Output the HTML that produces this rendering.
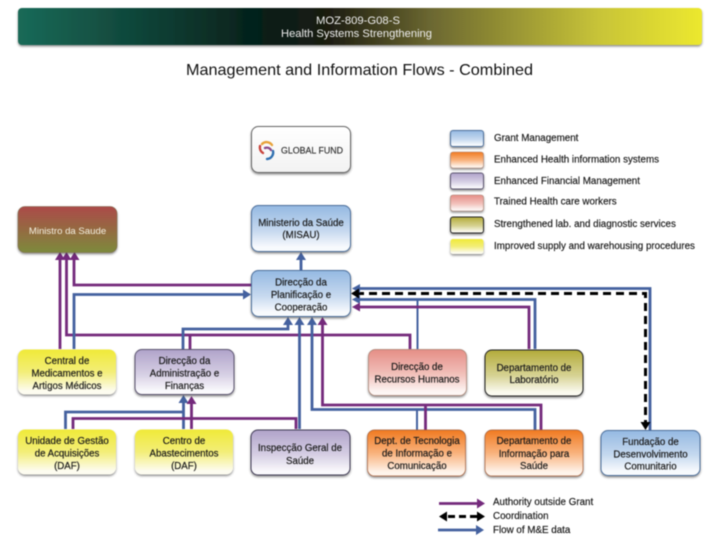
<!DOCTYPE html>
<html><head><meta charset="utf-8">
<style>
html,body{margin:0;padding:0;background:#fff;width:720px;height:540px;overflow:hidden}
svg{display:block;filter:blur(0.4px)}
text{font-family:"Liberation Sans",sans-serif;fill:#1a1a1a;font-size:9.7px;text-anchor:middle;stroke:#1a1a1a;stroke-width:0.18px}
.l{text-anchor:start;font-size:9.8px}
.w{fill:#f4f0e0;stroke:none}
.p{fill:none;stroke:#742a7c;stroke-width:2.8}
.b{fill:none;stroke:#44619f;stroke-width:2.8}
.k{fill:none;stroke:#000;stroke-width:3;stroke-dasharray:8 5}
.ap{fill:#742a7c}.ab{fill:#44619f}.ak{fill:#000}
.bx{filter:url(#sh)}
</style></head><body>
<svg width="720" height="540" viewBox="0 0 720 540" xmlns="http://www.w3.org/2000/svg">
<defs>
<filter id="sh" x="-10%" y="-10%" width="120%" height="130%"><feDropShadow dx="0" dy="1.5" stdDeviation="1" flood-color="#333" flood-opacity=".55"/></filter>
<linearGradient id="hd" x1="0" x2="1" y1="0" y2="0"><stop offset="0" stop-color="#1a6a58"/><stop offset=".35" stop-color="#05201a"/><stop offset=".45" stop-color="#1a1a10"/><stop offset=".6" stop-color="#6a6630"/><stop offset=".85" stop-color="#c8c438"/><stop offset="1" stop-color="#ece82e"/></linearGradient>
<linearGradient id="gb" x1="0" x2="0" y1="0" y2="1"><stop offset="0" stop-color="#95b9e2"/><stop offset=".55" stop-color="#c6d9ef"/><stop offset=".9" stop-color="#f7fafd"/></linearGradient>
<linearGradient id="gy" x1="0" x2="0" y1="0" y2="1"><stop offset="0" stop-color="#f0ea38"/><stop offset=".5" stop-color="#f3ee78"/><stop offset=".92" stop-color="#fdfcf0"/></linearGradient>
<linearGradient id="gv" x1="0" x2="0" y1="0" y2="1"><stop offset="0" stop-color="#b0a3ca"/><stop offset=".55" stop-color="#d6cfe4"/><stop offset=".92" stop-color="#faf9fc"/></linearGradient>
<linearGradient id="gr" x1="0" x2="0" y1="0" y2="1"><stop offset="0" stop-color="#e58e86"/><stop offset=".55" stop-color="#f2c2bc"/><stop offset=".92" stop-color="#fdf6f4"/></linearGradient>
<linearGradient id="go" x1="0" x2="0" y1="0" y2="1"><stop offset="0" stop-color="#f07a20"/><stop offset=".5" stop-color="#f9b27c"/><stop offset=".92" stop-color="#fef4ec"/></linearGradient>
<linearGradient id="gl" x1="0" x2="0" y1="0" y2="1"><stop offset="0" stop-color="#b3ab3a"/><stop offset=".55" stop-color="#d6d292"/><stop offset=".92" stop-color="#fbfaf0"/></linearGradient>
<linearGradient id="gm" x1="0" x2="0" y1="0" y2="1"><stop offset="0" stop-color="#ac4a48"/><stop offset="1" stop-color="#7d8a3c"/></linearGradient>
<linearGradient id="gw" x1="0" x2="0" y1="0" y2="1"><stop offset="0" stop-color="#ffffff"/><stop offset="1" stop-color="#f2f2f2"/></linearGradient>
</defs>

<!-- header -->
<rect class="bx" x="18" y="8" width="684" height="37" rx="4" fill="url(#hd)"/>
<text x="358" y="24" textLength="84" lengthAdjust="spacingAndGlyphs" style="fill:#eee;stroke:none;font-size:11px">MOZ-809-G08-S</text>
<text x="356.500" y="37" textLength="151" lengthAdjust="spacingAndGlyphs" style="fill:#eee;stroke:none;font-size:11px">Health Systems Strengthening</text>
<text x="359.500" y="75" textLength="347" lengthAdjust="spacingAndGlyphs" style="font-size:15.6px;stroke:none;fill:#111">Management and Information Flows - Combined</text>

<!-- connectors -->
<path class="p" d="M60 349V256"/>
<path class="p" d="M66.500 256V335H410V349"/>
<path class="p" d="M74 256V285H251"/>
<path class="b" d="M74 349V294.500H247"/>
<path class="b" d="M301 270V256"/>
<path class="b" d="M183 349V329H288V320"/>
<path class="p" d="M190 349V335"/>
<path class="b" d="M299.500 429V320"/>
<path class="b" d="M312 320V409.500H535V430"/>
<path class="p" d="M322.500 320V405H541V430"/>
<path class="b" d="M417 410V430" style="stroke-width:2"/>
<path class="p" d="M425.500 405V430"/>
<path class="b" d="M356 288.500H650V430"/>
<path class="k" d="M356 293.500H645.500V424"/>
<path class="b" d="M356 299.500H535V349"/>
<path class="b" d="M417.500 299.500V349" style="stroke-width:2"/>
<path class="p" d="M356 307H529V349"/>
<path class="b" d="M183.500 429V400"/>
<path class="b" d="M65.500 429V412H183"/>
<path class="p" d="M73 429V418.500H296V429"/>
<path class="p" d="M191.500 429V400"/>

<!-- arrowheads -->
<path class="ap" d="M60 252l-5 8h10z"/><path class="ap" d="M66.500 252l-5 8h10z"/><path class="ap" d="M74.500 252l-5 8h10z"/>
<path class="ab" d="M251 294.500l-8-5v10z"/>
<path class="ab" d="M301 252l-5 8h10z"/>
<path class="ab" d="M288 317l-5 8h10z"/>
<path class="ab" d="M299.500 317l-5 8h10z"/>
<path class="ab" d="M312 317l-5 8h10z"/>
<path class="ap" d="M322.500 317l-5 8h10z"/>
<path class="ab" d="M352 288.500l8-4.500v9z"/>
<path class="ab" d="M352 299.500l8-4.500v9z"/>
<path class="ap" d="M352 307l8-4.500v9z"/>
<path class="ak" d="M351 293.500l8-5v10z"/>
<path class="ak" d="M645.500 430l-5-8h10z"/>
<path class="ab" d="M183.500 395l-5 8h10z"/>
<path class="ap" d="M191.500 396l-5 8h10z"/>

<!-- boxes -->
<g class="bx">
<rect x="251.500" y="126.500" width="99" height="46" rx="7" fill="url(#gw)" stroke="#666"/>
<rect x="18" y="206.500" width="99" height="46" rx="7" fill="url(#gm)" stroke="#7c6a4a" stroke-width=".6"/>
<rect x="251.500" y="205.500" width="99" height="46" rx="7" fill="url(#gb)" stroke="#4d6f9c"/>
<rect x="251.500" y="270.500" width="99" height="46" rx="7" fill="url(#gb)" stroke="#4d6f9c"/>
<rect x="18" y="349.500" width="98" height="45" rx="7" fill="url(#gy)"/>
<rect x="135" y="349.500" width="99" height="45" rx="7" fill="url(#gv)" stroke="#5b5470"/>
<rect x="368.500" y="349.500" width="98" height="46" rx="7" fill="url(#gr)" stroke="#a88070" stroke-width=".7"/>
<rect x="485" y="350" width="98" height="46" rx="7" fill="url(#gl)" stroke="#222"/>
<rect x="18" y="429.500" width="98" height="45" rx="7" fill="url(#gy)"/>
<rect x="135" y="429.500" width="98" height="45" rx="7" fill="url(#gy)"/>
<rect x="251" y="430" width="99" height="45" rx="7" fill="url(#gv)" stroke="#3f3a55"/>
<rect x="367.500" y="430" width="98" height="46" rx="7" fill="url(#go)" stroke="#a8603a" stroke-width=".7"/>
<rect x="485" y="430" width="98" height="46" rx="7" fill="url(#go)" stroke="#a8603a" stroke-width=".7"/>
<rect x="601" y="430.500" width="99" height="45" rx="7" fill="url(#gb)" stroke="#4d6f9c"/>
<!-- legend -->
<rect x="450.500" y="130.500" width="33" height="16" rx="2.500" fill="url(#gb)" stroke="#4d6f9c"/>
<rect x="450.500" y="152" width="33" height="16" rx="2.500" fill="url(#go)" stroke="#a88070" stroke-width=".6"/>
<rect x="450.500" y="173" width="33" height="16" rx="2.500" fill="url(#gv)" stroke="#5b5470"/>
<rect x="450.500" y="195" width="33" height="16" rx="2.500" fill="url(#gr)" stroke="#a88070" stroke-width=".6"/>
<rect x="450.500" y="217" width="33" height="16" rx="2.500" fill="url(#gl)" stroke="#222"/>
<rect x="450.500" y="239" width="33" height="15" rx="2.500" fill="url(#gy)"/>
</g>

<!-- Global fund logo -->
<g fill="none" stroke-width="2.4" stroke-linecap="round">
<path d="M272 145a6.500 6.500 0 0 0-10-1" stroke="#e8a23a"/>
<path d="M260 146a6.500 6.500 0 0 0 3 7" stroke="#c8423a"/>
<path d="M265 148a5 5 0 0 1 6 2" stroke="#8a4a8a"/>
<path d="M273 151a6.500 6.500 0 0 1-6 8" stroke="#2f6fb0"/>
</g>
<text x="312" y="153.500" textLength="62" lengthAdjust="spacingAndGlyphs" style="font-size:9px;fill:#333;stroke:#333">GLOBAL FUND</text>

<!-- box labels -->
<text class="w" x="67.500" y="234" style="font-size:9.6px">Ministro da Saude</text>
<text x="301" y="226">Ministerio da Saúde</text><text x="301" y="238">(MISAU)</text>
<text x="301" y="285.500">Direcção da</text><text x="301" y="298">Planificação e</text><text x="301" y="310.500">Cooperação</text>
<text x="67" y="364">Central de</text><text x="67" y="376.500">Medicamentos e</text><text x="67" y="389">Artigos Médicos</text>
<text x="184.500" y="364">Direcção da</text><text x="184.500" y="376.500">Administração e</text><text x="184.500" y="389">Finanças</text>
<text x="417" y="370">Direcção de</text><text x="417" y="382.500">Recursos Humanos</text>
<text x="534" y="371">Departamento de</text><text x="534" y="383">Laboratório</text>
<text x="67" y="444">Unidade de Gestão</text><text x="67" y="456.500">de Acquisições</text><text x="67" y="469">(DAF)</text>
<text x="184" y="444">Centro de</text><text x="184" y="456.500">Abastecimentos</text><text x="184" y="469">(DAF)</text>
<text x="300" y="451">Inspecção Geral de</text><text x="300" y="464">Saúde</text>
<text x="417" y="444">Dept. de Tecnologia</text><text x="417" y="456.500">de Informação e</text><text x="417" y="469">Comunicação</text>
<text x="534" y="444">Departamento de</text><text x="534" y="457">Informação para</text><text x="534" y="469">Saúde</text>
<text x="650.500" y="445">Fundação de</text><text x="650.500" y="457.500">Desenvolvimento</text><text x="650.500" y="469.500">Comunitario</text>

<!-- legend labels -->
<text class="l" x="494" y="141">Grant Management</text>
<text class="l" x="494" y="162.500">Enhanced Health information systems</text>
<text class="l" x="494" y="184">Enhanced Financial Management</text>
<text class="l" x="494" y="204.500">Trained Health care workers</text>
<text class="l" x="494" y="227">Strengthened lab. and diagnostic services</text>
<text class="l" x="494" y="249">Improved supply and warehousing procedures</text>

<!-- bottom legend -->
<path class="p" d="M439 503.500H480"/><path class="ap" d="M485 503.500l-8-5v10z"/>
<path class="k" d="M448 516.500H478" style="stroke-dasharray:7 4"/><path class="ak" d="M439 516.500l8-5v10z"/><path class="ak" d="M485 516.500l-8-5v10z"/>
<path class="b" d="M438 530H480"/><path class="ab" d="M484 530l-8-5v10z"/>
<text class="l" x="493" y="505">Authority outside Grant</text>
<text class="l" x="493" y="519">Coordination</text>
<text class="l" x="493" y="533">Flow of M&amp;E data</text>
</svg>
</body></html>
